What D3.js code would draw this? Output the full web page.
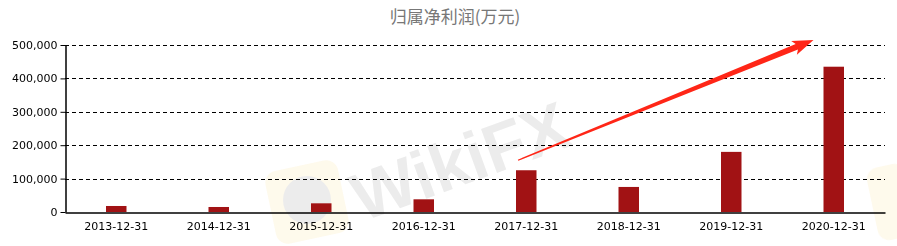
<!DOCTYPE html>
<html>
<head>
<meta charset="utf-8">
<script src="https://cdn.jsdelivr.net/npm/d3@7"></script>
<style>
  body { margin: 0; background: #fff; }
  svg { display: block; }
</style>
</head>
<body>
<script>
const dates = ['2013-12-31', '2014-12-31', '2015-12-31', '2016-12-31',
  '2017-12-31', '2018-12-31', '2019-12-31', '2020-12-31'];
const profit = [18000, 15000, 26000, 38000, 125000, 75000, 180000, 435000];
const yTicks = [0, 100000, 200000, 300000, 400000, 500000];
const title = '归属净利润(万元)';

const width = 897, height = 246;
const margin = { top: 45, right: 12, bottom: 34, left: 65 };

const svg = d3.select('body').append('svg')
  .attr('width', width)
  .attr('height', height);

const x = d3.scaleBand()
  .domain(dates)
  .range([margin.left, width - margin.right])
  .paddingInner(0.8)
  .paddingOuter(0.4);

const y = d3.scaleLinear()
  .domain([0, 500000])
  .range([height - margin.bottom, margin.top]);

const fmt = d3.format(',');

// faint watermark
const wm = svg.append('g').attr('opacity', 0.1);
wm.append('rect')
  .attr('x', 270).attr('y', 165).attr('width', 74).attr('height', 74).attr('rx', 12)
  .attr('fill', '#f5c842').attr('transform', 'rotate(-12,307,202)');
wm.append('circle')
  .attr('cx', 307).attr('cy', 200).attr('r', 24)
  .attr('fill', '#444');
wm.append('rect')
  .attr('x', 872).attr('y', 165).attr('width', 40).attr('height', 74).attr('rx', 12)
  .attr('fill', '#f5c842').attr('transform', 'rotate(-12,892,202)');
wm.append('text')
  .attr('x', 362).attr('y', 222)
  .attr('transform', 'rotate(-20,362,222)')
  .style('font-family', 'Arial, "Liberation Sans", sans-serif')
  .style('font-size', '68px')
  .style('font-weight', 'bold')
  .attr('fill', '#444')
  .text('WikiFX');

// grid lines
svg.append('g')
  .selectAll('line')
  .data(yTicks.filter(d => d > 0))
  .join('line')
  .attr('x1', margin.left)
  .attr('x2', width - margin.right)
  .attr('y1', d => Math.round(y(d)) + 0.5)
  .attr('y2', d => Math.round(y(d)) + 0.5)
  .attr('stroke', '#000')
  .attr('stroke-dasharray', '4,3');

// bars
svg.append('g')
  .selectAll('rect')
  .data(profit)
  .join('rect')
  .attr('x', (d, i) => x(dates[i]))
  .attr('y', d => y(d))
  .attr('width', x.bandwidth())
  .attr('height', d => y(0) - y(d))
  .attr('fill', '#a11214');

// y axis
const yAxis = svg.append('g')
  .attr('transform', `translate(${margin.left + 0.5},0)`)
  .call(d3.axisLeft(y).tickValues(yTicks).tickFormat(fmt).tickSize(5).tickSizeOuter(0));
yAxis.select('.domain').attr('stroke', '#000').attr('stroke-width', 1.5);
yAxis.selectAll('.tick text')
  .style('font-family', '"DejaVu Sans", sans-serif')
  .style('font-size', '11px')
  .attr('fill', '#000')
  .attr('x', -8);

// x axis
const xAxis = svg.append('g')
  .attr('transform', `translate(0,${y(0) + 0.5})`)
  .call(d3.axisBottom(x).tickSize(0).tickSizeOuter(0));
xAxis.select('.domain').attr('stroke', '#000').attr('stroke-width', 1.5);
xAxis.selectAll('.tick text')
  .style('font-family', '"DejaVu Sans", sans-serif')
  .style('font-size', '11px')
  .attr('fill', '#000')
  .attr('dy', '1.3em');

// title
svg.append('text')
  .attr('x', 455)
  .attr('y', 23)
  .attr('text-anchor', 'middle')
  .style('font-family', '"Noto Sans CJK SC", sans-serif')
  .style('font-size', '17px')
  .attr('fill', '#777')
  .text(title);

// red trend arrow, from above the 2017 bar to above the 2020 bar
const x0 = x('2017-12-31') + x.bandwidth() * 0.1, y0 = y(155000);
const x1 = x('2020-12-31') - 10, y1 = y(515000);
const ang = Math.atan2(y1 - y0, x1 - x0);
const len = Math.hypot(x1 - x0, y1 - y0);
const headL = 18, headW = 7.5, shaftW = 3;
const pts = [
  [0, 0.6], [len - headL, shaftW], [len - headL - 3, headW], [len, 0],
  [len - headL - 3, -headW], [len - headL, -shaftW], [0, -0.6]
];
svg.append('polygon')
  .attr('points', pts.map(p => p.join(',')).join(' '))
  .attr('transform', `translate(${x0},${y0}) rotate(${ang * 180 / Math.PI})`)
  .attr('fill', '#ff2617');
</script>
</body>
</html>
